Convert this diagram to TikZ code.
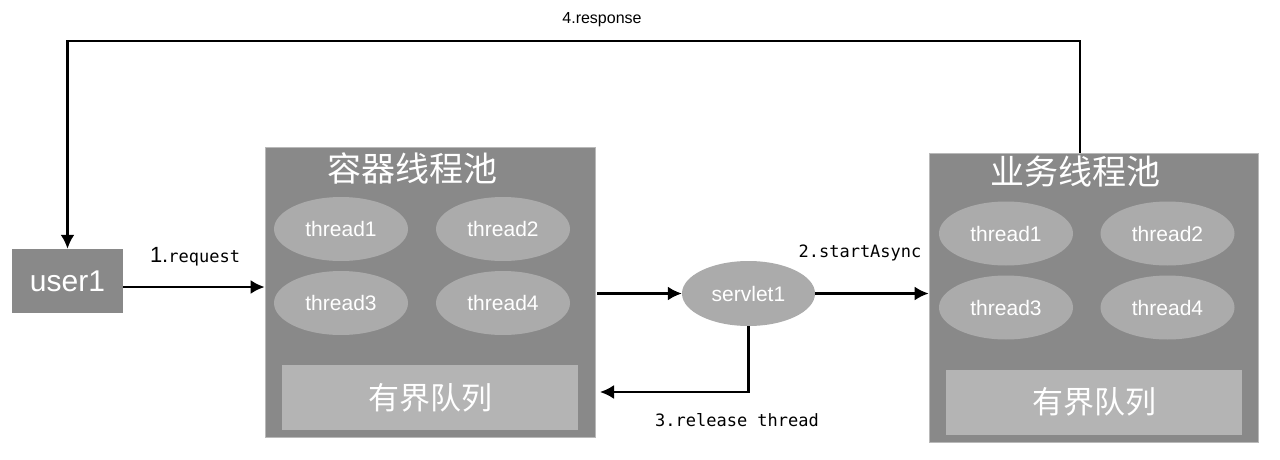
\documentclass[tikz,border=0pt]{standalone}
\usepackage{fontspec}
\setmainfont{Liberation Sans}
\setmonofont{DejaVu Sans Mono}
\newfontfamily\cjk{Noto Sans CJK SC}
\usetikzlibrary{shapes.geometric,arrows.meta}

\def\fsz#1{\fontsize{#1}{#1}\selectfont}

\definecolor{pooldark}{RGB}{137,137,137}
\definecolor{threadgray}{RGB}{171,171,171}
\definecolor{queuegray}{RGB}{180,180,180}

\begin{document}
\begin{tikzpicture}[x=1pt,y=-1pt,
	flow/.style={line width=2.2pt, -{Latex[length=14pt,width=14pt]}},
	label/.style={font=\ttfamily\fsz{17}, inner sep=0},
	]
	\useasboundingbox (0,0) rectangle (1280,460);

	\tikzstyle{pool}=[fill=pooldark, draw=gray!55, line width=0.8pt, inner sep=0]
	\tikzstyle{thread}=[ellipse, fill=threadgray, text=white, inner sep=0,
		minimum width=134, minimum height=64, font=\fsz{21}]
	\tikzstyle{queue}=[fill=queuegray, text=white, inner sep=0,
		minimum width=296, minimum height=65, font=\cjk\fsz{31}]
	\tikzstyle{title}=[text=white, inner sep=0, font=\cjk\fsz{34}]

	% user
	\node[fill=pooldark, text=white, font=\fsz{30}, inner sep=0,
		minimum width=111, minimum height=64] (user1) at (67.5,281) {user1};

	% container thread pool
	\node[pool, minimum width=330, minimum height=290] (cpool) at (430,292) {};
	\node[title] (ctitle) at (412,168) {容器线程池};
	\node[thread] (c1) at (341,229) {thread1};
	\node[thread] (c2) at (503,229) {thread2};
	\node[thread] (c3) at (341,303) {thread3};
	\node[thread] (c4) at (503,303) {thread4};
	\node[queue] (cqueue) at (430,397.5) {有界队列};

	% servlet
	\node[ellipse, fill=threadgray, text=white, font=\fsz{21}, inner sep=0,
		minimum width=133, minimum height=65] (servlet1) at (748.5,293.5) {servlet1};

	% business thread pool
	\node[pool, minimum width=329, minimum height=289] (bpool) at (1093.5,297.5) {};
	\node[title] (btitle) at (1075,172) {业务线程池};
	\node[thread] (b1) at (1006,233.5) {thread1};
	\node[thread] (b2) at (1167.5,233.5) {thread2};
	\node[thread] (b3) at (1006,307.5) {thread3};
	\node[thread] (b4) at (1167.5,307.5) {thread4};
	\node[queue] (bqueue) at (1094,402) {有界队列};

	% connectors
	\draw[flow] ([yshift=-6pt]user1.east) -- ([yshift=-6pt]user1.east -| cpool.west);
	\node[inner sep=0] (req) at (195,257) {\fsz{22}1.\ttfamily\fsz{17}request};

	\draw[flow] ([xshift=2pt]cpool.east |- servlet1.west) -- (servlet1.west);
	\draw[flow] (servlet1.east) -- (servlet1.east -| bpool.west);
	\node[label] (async) at (860,253) {2.startAsync};

	\coordinate (relend) at (600,392);
	\draw[flow] (servlet1.south) |- (relend);
	\node[label] (release) at (737,420) {3.release thread};

	\coordinate (top) at (1080,41);
	\draw[flow, line width=2.4pt] (top |- bpool.north) -- (top) -| (user1.north);
	\node[font=\fsz{16}, inner sep=0] (resp) at (602,20) {4.response};
\end{tikzpicture}
\end{document}
